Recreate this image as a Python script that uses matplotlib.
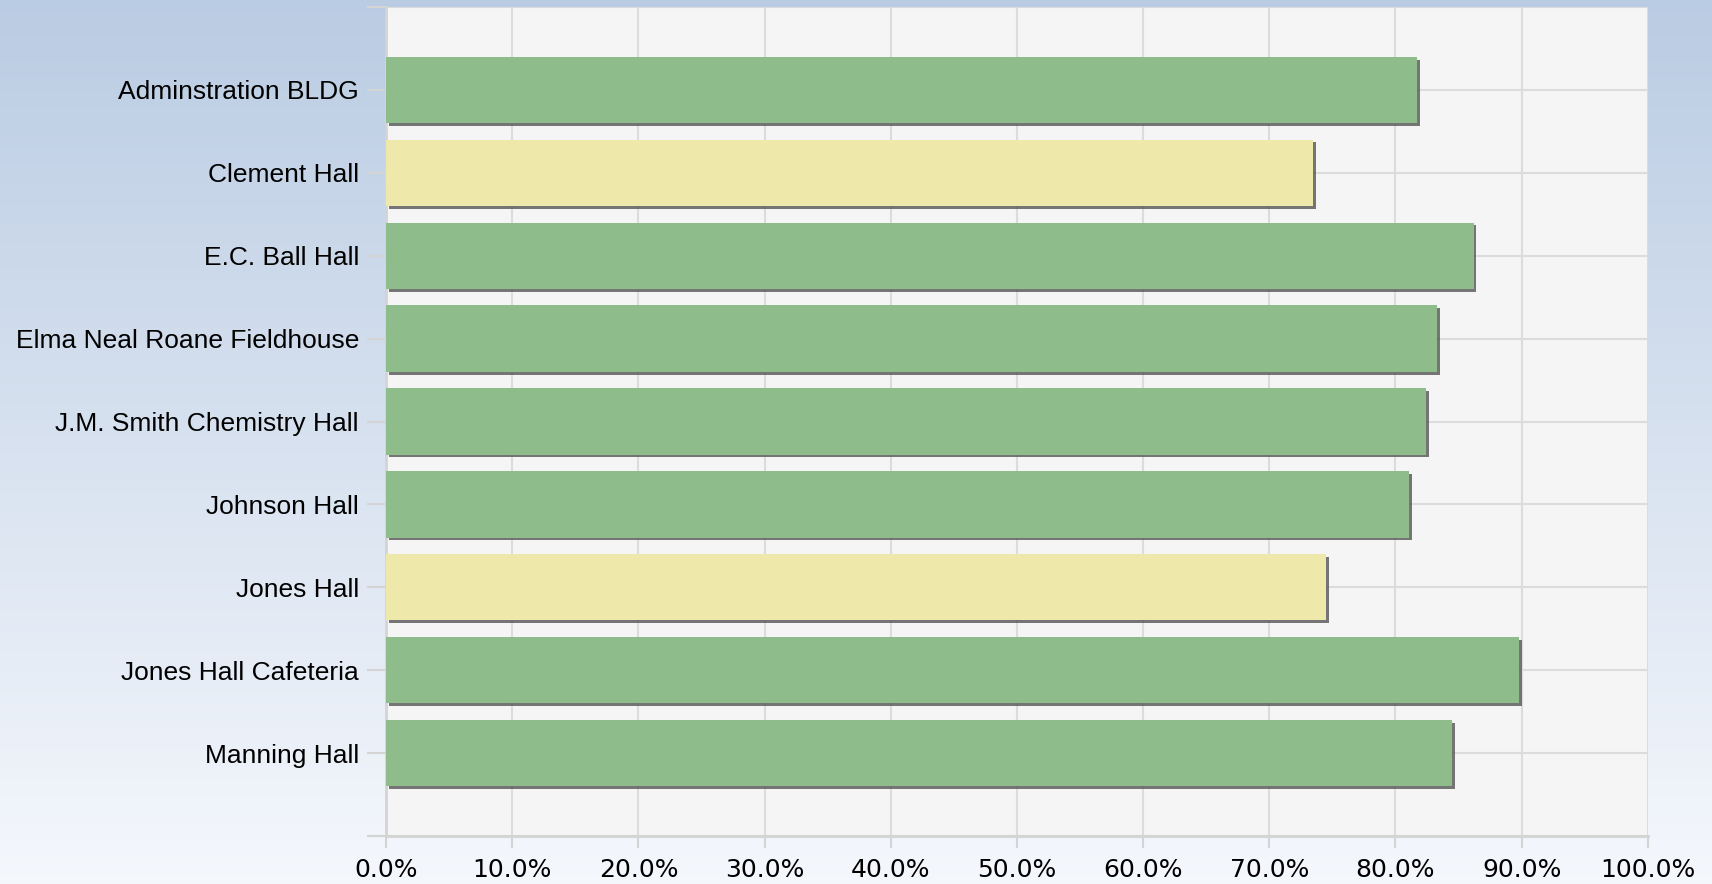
import numpy as np
import matplotlib.pyplot as plt
from matplotlib import patheffects
from matplotlib.ticker import FuncFormatter

buildings = [
    "Adminstration BLDG",
    "Clement Hall",
    "E.C. Ball Hall",
    "Elma Neal Roane Fieldhouse",
    "J.M. Smith Chemistry Hall",
    "Johnson Hall",
    "Jones Hall",
    "Jones Hall Cafeteria",
    "Manning Hall",
]
scores = [81.7, 73.5, 86.2, 83.3, 82.4, 81.1, 74.5, 89.8, 84.5]
status = ["good", "warn", "good", "good", "good", "good", "warn", "good", "good"]

colors = {"good": "#8FBC8B", "warn": "#EEE8AA"}

fig = plt.figure(figsize=(17.12, 8.84), dpi=100)

# background gradient
bg = fig.add_axes([0, 0, 1, 1], zorder=-10)
grad = np.linspace(0, 1, 256).reshape(-1, 1)
top = np.array([0.73, 0.80, 0.89])
bot = np.array([0.96, 0.97, 0.99])
img = top + (bot - top) * grad[:, :, None]
bg.imshow(img, aspect="auto", extent=[0, 1, 0, 1])
bg.axis("off")

ax = fig.add_axes([0.2255, 0.0543, 0.737, 0.9377])
ax.set_facecolor("#F5F5F5")

ypos = np.arange(len(buildings))
bars = ax.barh(ypos, scores, height=0.8,
               color=[colors[s] for s in status], zorder=3)
for b in bars:
    b.set_path_effects([
        patheffects.SimplePatchShadow(offset=(2, -2), shadow_rgbFace="#555555", alpha=0.8),
        patheffects.Normal(),
    ])

ax.set_xlim(0, 100)
ax.set_ylim(len(buildings), -1)
ax.set_xticks(np.arange(0, 101, 10))
ax.xaxis.set_major_formatter(FuncFormatter(lambda v, p: f"{v:.1f}%"))
ax.set_yticks(np.arange(-1, len(buildings) + 1))
ax.set_yticklabels([""] + buildings + [""])

ax.grid(True, color="#DCDCDC", linewidth=1.5, zorder=0)
ax.set_axisbelow(True)

for side in ["top", "right"]:
    ax.spines[side].set_visible(False)
for side in ["left", "bottom"]:
    ax.spines[side].set_color("#D4D4D4")
    ax.spines[side].set_linewidth(2)

ax.tick_params(axis="y", length=13.5, width=1.5, color="#D4D4D4", pad=6,
               labelsize=19, labelcolor="black")
ax.tick_params(axis="x", length=8.5, width=1.5, color="#D4D4D4", pad=7,
               labelsize=18, labelcolor="black")
for lbl in ax.get_yticklabels():
    lbl.set_fontfamily("Liberation Sans")
for lbl in ax.get_xticklabels():
    lbl.set_fontfamily("DejaVu Sans")

fig.savefig("out.png", dpi=100)
